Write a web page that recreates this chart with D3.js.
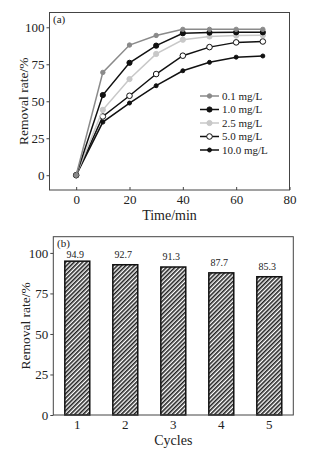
<!DOCTYPE html>
<html><head><meta charset="utf-8">
<script src="https://cdn.jsdelivr.net/npm/d3@7"></script>
<style>
html,body{margin:0;padding:0;background:#fff;}
text{font-family:"Liberation Serif","Times New Roman",serif;fill:#222;}
</style></head>
<body>
<svg id="c" width="326" height="457"></svg>
<script>
// ---- Data: panel (a) ----
const times = [0, 10, 20, 30, 40, 50, 60, 70];
const seriesNames = ["0.1 mg/L", "1.0 mg/L", "2.5 mg/L", "5.0 mg/L", "10.0 mg/L"];
const s01  = [0, 69.5, 88.0, 94.5, 98.6, 98.6, 98.6, 98.6];
const s10  = [0, 54.2, 76.0, 87.6, 96.0, 96.4, 96.6, 96.6];
const s25  = [0, 44.2, 65.0, 82.0, 91.6, 93.8, 94.4, 94.6];
const s50  = [0, 39.7, 53.7, 68.4, 80.8, 86.6, 89.8, 90.4];
const s100 = [0, 35.9, 48.8, 60.5, 70.6, 76.3, 79.8, 80.6];
const xTicksA = [0, 20, 40, 60, 80];
const yTicks = [0, 25, 50, 75, 100];
// ---- Data: panel (b) ----
const cycles = ["1", "2", "3", "4", "5"];
const cycleValues = [94.9, 92.7, 91.3, 87.7, 85.3];

const svg = d3.select("#c");

// hatch pattern
const defs = svg.append("defs");
const pat = defs.append("pattern").attr("id","hatch").attr("patternUnits","userSpaceOnUse")
  .attr("width",3).attr("height",3).attr("patternTransform","rotate(45)");
pat.append("rect").attr("width",3).attr("height",3).attr("fill","#fff");
pat.append("rect").attr("width",1.6).attr("height",3).attr("fill","#222");

// ===== Panel (a) =====
const A = {l:49.5, r:289.5, t:12.5, b:190};
const xa = d3.scaleLinear().domain([-10,80]).range([A.l,A.r]);
const ya = d3.scaleLinear().domain([-10,110]).range([A.b,A.t]);
const ga = svg.append("g");

ga.append("rect").attr("x",A.l).attr("y",A.t).attr("width",A.r-A.l).attr("height",A.b-A.t)
  .attr("fill","none").attr("stroke","#444").attr("stroke-width",1);

const axAx = ga.append("g").attr("transform",`translate(0,${A.b})`)
  .call(d3.axisBottom(xa).tickValues(xTicksA).tickSizeInner(-3).tickSizeOuter(0).tickPadding(5));
const axAy = ga.append("g").attr("transform",`translate(${A.l},0)`)
  .call(d3.axisLeft(ya).tickValues(yTicks).tickSizeInner(3).tickSizeOuter(0).tickPadding(2));
[axAx, axAy].forEach(g=>{
  g.select(".domain").remove();
  g.selectAll("line").attr("stroke","#444");
  g.selectAll("text").attr("font-size",13).attr("font-family","Liberation Serif").attr("fill","#222");
});

const seriesData = [s01, s10, s25, s50, s100];
const styles = [
  {stroke:"#8a8a8a", fill:"#8a8a8a", r:2.2, mstroke:"#8a8a8a"},
  {stroke:"#111", fill:"#111", r:2.6, mstroke:"#111"},
  {stroke:"#c8c8c8", fill:"#c8c8c8", r:2.6, mstroke:"#c8c8c8"},
  {stroke:"#111", fill:"#fff", r:2.8, mstroke:"#111"},
  {stroke:"#111", fill:"#111", r:2.0, mstroke:"#111"}
];
const line = d3.line().x((d,i)=>xa(times[i])).y(d=>ya(d));
seriesData.map((s,k)=>({s,k})).reverse().forEach(({s,k})=>{
  const st = styles[k];
  ga.append("path").datum(s).attr("d",line).attr("fill","none")
    .attr("stroke",st.stroke).attr("stroke-width",1.5);
  ga.selectAll(null).data(s).enter().append("circle")
    .attr("cx",(d,i)=>xa(times[i])).attr("cy",d=>ya(d)).attr("r",st.r)
    .attr("fill",st.fill).attr("stroke",st.mstroke).attr("stroke-width",1);
});

// legend
const lg = ga.append("g");
seriesNames.forEach((n,k)=>{
  const st = styles[k];
  const yy = 96 + k*13.5;
  lg.append("line").attr("x1",200).attr("x2",219).attr("y1",yy).attr("y2",yy)
    .attr("stroke",st.stroke).attr("stroke-width",1.5);
  lg.append("circle").attr("cx",209.5).attr("cy",yy).attr("r",st.r)
    .attr("fill",st.fill).attr("stroke",st.mstroke).attr("stroke-width",1);
  lg.append("text").attr("x",222).attr("y",yy+3.8).attr("font-size",11).text(n);
});

ga.append("text").attr("x",53).attr("y",23).attr("font-size",11).text("(a)");
ga.append("text").attr("x",(A.l+A.r)/2).attr("y",220).attr("text-anchor","middle")
  .attr("font-size",14).text("Time/min");
ga.append("text").attr("transform",`translate(28,${(A.t+A.b)/2}) rotate(-90)`)
  .attr("text-anchor","middle").attr("font-size",13.5).text("Removal rate/%");

// ===== Panel (b) =====
const B = {l:53.3, r:293.3, t:236.7, b:415};
const xb = d3.scaleBand().domain(cycles).range([B.l,B.r]).paddingInner(0.48).paddingOuter(0.24);
const yb = d3.scaleLinear().domain([0,110]).range([B.b,B.t]);
const gb = svg.append("g");

gb.selectAll(null).data(cycleValues).enter().append("rect")
  .attr("x",(d,i)=>xb(cycles[i])).attr("width",xb.bandwidth())
  .attr("y",d=>yb(d)).attr("height",d=>yb(0)-yb(d))
  .attr("fill","url(#hatch)").attr("stroke","#111").attr("stroke-width",1.5);

gb.selectAll(null).data(cycleValues).enter().append("text")
  .attr("x",(d,i)=>xb(cycles[i])+xb.bandwidth()/2 - 2)
  .attr("y",d=>Math.max(yb(d)-7, yb(97)))
  .attr("text-anchor","middle").attr("font-size",10).attr("fill","#333").text(d=>d.toFixed(1));

gb.append("rect").attr("x",B.l).attr("y",B.t).attr("width",B.r-B.l).attr("height",B.b-B.t)
  .attr("fill","none").attr("stroke","#444").attr("stroke-width",1);

const bx = gb.append("g").attr("transform",`translate(0,${B.b})`)
  .call(d3.axisBottom(xb).tickSize(0).tickPadding(5));
const by = gb.append("g").attr("transform",`translate(${B.l},0)`)
  .call(d3.axisLeft(yb).tickValues(yTicks).tickSizeInner(3).tickSizeOuter(0).tickPadding(2));
[bx, by].forEach(g=>{
  g.select(".domain").remove();
  g.selectAll("line").attr("stroke","#444");
  g.selectAll("text").attr("font-size",13).attr("font-family","Liberation Serif").attr("fill","#222");
});

gb.append("text").attr("x",57).attr("y",247).attr("font-size",11).text("(b)");
gb.append("text").attr("x",(B.l+B.r)/2).attr("y",445).attr("text-anchor","middle")
  .attr("font-size",14).text("Cycles");
gb.append("text").attr("transform",`translate(30,${(B.t+B.b)/2}) rotate(-90)`)
  .attr("text-anchor","middle").attr("font-size",13.5).text("Removal rate/%");
</script>
</body></html>
